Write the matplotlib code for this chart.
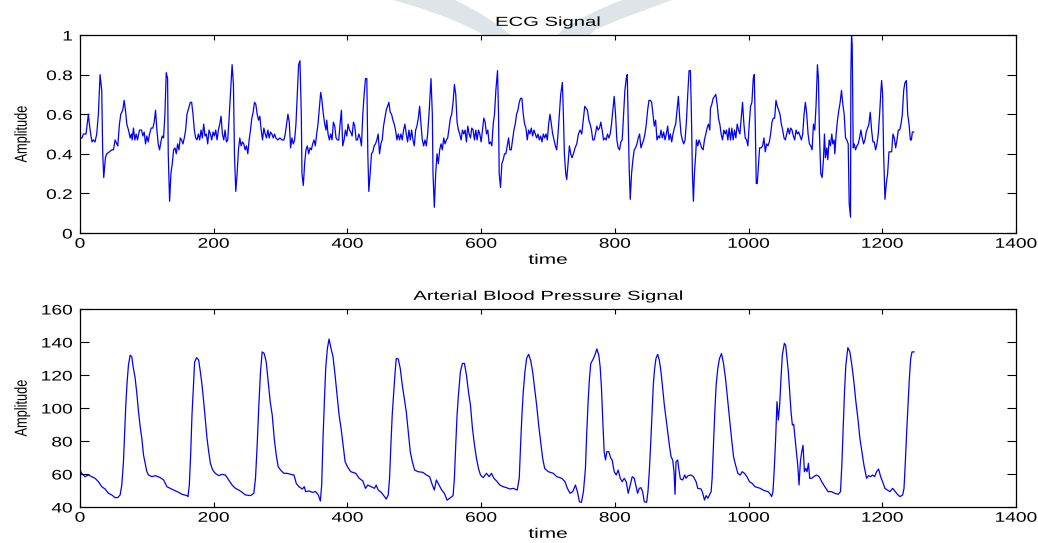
import matplotlib
matplotlib.use("Agg")
import matplotlib.pyplot as plt
from matplotlib.patches import Polygon
from matplotlib.patheffects import AbstractPathEffect
from matplotlib.transforms import Affine2D
from matplotlib.ticker import FuncFormatter

# ---- ECG signal (time, amplitude) ----
ecg_pts = [
    (0, 0.48), (3, 0.48), (5, 0.50), (9, 0.50), (12.5, 0.60), (14, 0.55), (16, 0.50), (18, 0.46),
    (20, 0.47), (22.5, 0.46), (25, 0.50), (27.5, 0.60), (30, 0.80), (32.5, 0.72), (34, 0.40),
    (35.5, 0.28), (38, 0.38), (40, 0.40), (44, 0.41), (47.5, 0.42), (50, 0.42), (52.5, 0.47),
    (55, 0.45), (56.5, 0.44), (59, 0.55), (61, 0.60), (64, 0.62), (66, 0.67), (68, 0.62),
    (70, 0.55), (72.5, 0.52), (75, 0.48), (77, 0.50), (78, 0.47), (80, 0.53), (82, 0.47),
    (84, 0.50), (86, 0.47), (89, 0.52), (92, 0.52), (94, 0.49), (96, 0.51), (98, 0.45),
    (100, 0.49), (102, 0.46), (104, 0.50), (106.5, 0.53), (109, 0.53), (111, 0.56), (113, 0.62),
    (115, 0.52), (117, 0.45), (119, 0.42), (121, 0.46), (123, 0.49), (125, 0.48), (127, 0.60),
    (129, 0.81), (131, 0.78), (132, 0.40), (134, 0.16), (136, 0.30), (138, 0.35), (140, 0.42),
    (142, 0.43), (144, 0.40), (146, 0.45), (148, 0.42), (150, 0.48), (152, 0.47), (154, 0.45),
    (156, 0.48), (158, 0.52), (160, 0.60), (162.5, 0.63), (165, 0.66), (167, 0.66), (169, 0.60),
    (171, 0.52), (173, 0.48), (175, 0.47), (177, 0.50), (179, 0.47), (181, 0.52), (183, 0.48),
    (185, 0.55), (187, 0.49), (189, 0.50), (191, 0.45), (193, 0.52), (195, 0.50), (197, 0.47),
    (199, 0.51), (201, 0.49), (203, 0.52), (205, 0.47), (207, 0.52), (209, 0.55), (211, 0.59),
    (213, 0.50), (215, 0.47), (217, 0.52), (219, 0.46), (221, 0.47), (223, 0.58), (225, 0.70),
    (227.5, 0.85), (229.5, 0.75), (231, 0.40), (233, 0.21), (235, 0.30), (237, 0.42), (239, 0.48),
    (241, 0.44), (243, 0.46), (245, 0.45), (247, 0.42), (249, 0.44), (251, 0.40), (253, 0.47),
    (255, 0.52), (257, 0.58), (259, 0.61), (261, 0.66), (263, 0.65), (265, 0.60), (267, 0.57),
    (269, 0.59), (271, 0.52), (273, 0.47), (275, 0.53), (277, 0.50), (279, 0.48), (281, 0.52),
    (283, 0.48), (285, 0.51), (287, 0.50), (289, 0.48), (291, 0.50), (293, 0.48), (296, 0.47),
    (299, 0.48), (302, 0.47), (305, 0.47), (307, 0.50), (309, 0.55), (311, 0.60), (313, 0.56),
    (315, 0.43), (317, 0.48), (319, 0.45), (321, 0.47), (323, 0.55), (325, 0.70), (327, 0.85),
    (329, 0.87), (331, 0.60), (332, 0.30), (334, 0.24), (336, 0.35), (338, 0.42), (340, 0.44),
    (342, 0.40), (344, 0.43), (346, 0.42), (348, 0.45), (350, 0.47), (352, 0.44), (354, 0.50),
    (356, 0.55), (358, 0.63), (360, 0.71), (361.5, 0.68), (364, 0.60), (366, 0.55), (368, 0.52),
    (369, 0.57), (371, 0.50), (373, 0.47), (375, 0.50), (377, 0.47), (379, 0.56), (381, 0.54),
    (383, 0.48), (385, 0.47), (387, 0.47), (389, 0.55), (391, 0.62), (393, 0.44), (395, 0.47),
    (397, 0.52), (399, 0.49), (401, 0.55), (403, 0.52), (405, 0.51), (407, 0.49), (409, 0.56),
    (411, 0.54), (413, 0.47), (415, 0.47), (417, 0.50), (419, 0.48), (421, 0.44), (423, 0.60),
    (425, 0.70), (427, 0.78), (429, 0.78), (430.5, 0.40), (432, 0.21), (434, 0.30), (436, 0.40),
    (438, 0.41), (440, 0.44), (442, 0.45), (444, 0.47), (446, 0.50), (448, 0.40), (450, 0.45),
    (452, 0.47), (454, 0.54), (456, 0.58), (458, 0.62), (460, 0.64), (462, 0.66), (464, 0.61),
    (466, 0.60), (468, 0.57), (470, 0.55), (472, 0.52), (474, 0.47), (476, 0.50), (478, 0.47),
    (480, 0.50), (482, 0.47), (484, 0.52), (486, 0.55), (488, 0.50), (490, 0.46), (492, 0.52),
    (494, 0.47), (496, 0.52), (498, 0.47), (500, 0.44), (502, 0.52), (504, 0.54), (506, 0.58),
    (508, 0.64), (510, 0.55), (512, 0.47), (514, 0.44), (516, 0.47), (518, 0.44), (520, 0.50),
    (522, 0.60), (525, 0.78), (527, 0.60), (528, 0.30), (530, 0.13), (532, 0.30), (534, 0.40),
    (536, 0.35), (538, 0.42), (540, 0.45), (542, 0.42), (544, 0.48), (546, 0.45), (548, 0.47),
    (550, 0.48), (552, 0.53), (554, 0.58), (556, 0.60), (558, 0.66), (560, 0.75), (562, 0.70),
    (564, 0.56), (566, 0.52), (568, 0.50), (570, 0.47), (572, 0.52), (574, 0.50), (576, 0.52),
    (578, 0.46), (580, 0.54), (582, 0.50), (584, 0.48), (586, 0.53), (588, 0.52), (590, 0.47),
    (592, 0.52), (594, 0.47), (596, 0.52), (598, 0.50), (600, 0.46), (602, 0.52), (604, 0.58),
    (606, 0.56), (608, 0.50), (610, 0.52), (612, 0.45), (614, 0.46), (616, 0.44), (618, 0.55),
    (620, 0.60), (622, 0.72), (624.5, 0.82), (626, 0.60), (627, 0.30), (629, 0.23), (631, 0.35),
    (633, 0.37), (635, 0.40), (637, 0.40), (639, 0.44), (641, 0.48), (643, 0.42), (645, 0.42),
    (647, 0.47), (649, 0.52), (651, 0.55), (653, 0.60), (655, 0.62), (657, 0.66), (659, 0.68),
    (661, 0.68), (663, 0.60), (665, 0.55), (667, 0.53), (669, 0.47), (671, 0.52), (673, 0.50),
    (675, 0.53), (677, 0.49), (679, 0.52), (681, 0.50), (683, 0.48), (685, 0.50), (687, 0.47),
    (689, 0.49), (691, 0.46), (693, 0.50), (695, 0.48), (697, 0.50), (699, 0.47), (701, 0.55),
    (703, 0.60), (705, 0.55), (707, 0.50), (709, 0.47), (711, 0.44), (713, 0.42), (715, 0.50),
    (717, 0.60), (719, 0.70), (721.5, 0.76), (723, 0.60), (724.5, 0.40), (726.5, 0.30), (728, 0.27),
    (730, 0.35), (732, 0.44), (734, 0.40), (736, 0.38), (738, 0.40), (740.5, 0.43), (743, 0.45),
    (745.5, 0.50), (748, 0.52), (750.5, 0.50), (753, 0.58), (755, 0.64), (757, 0.63), (759, 0.62),
    (761, 0.57), (763, 0.55), (765, 0.52), (767, 0.47), (769, 0.47), (771, 0.50), (773, 0.54),
    (775, 0.52), (777, 0.53), (779, 0.56), (781, 0.52), (783, 0.47), (785, 0.48), (787, 0.47),
    (789, 0.50), (791, 0.48), (793, 0.50), (795, 0.55), (797, 0.62), (799, 0.69), (801, 0.60),
    (803, 0.47), (805, 0.43), (807, 0.42), (809, 0.46), (811, 0.47), (813, 0.60), (815, 0.72),
    (817, 0.78), (818.5, 0.80), (820, 0.55), (821.5, 0.32), (823, 0.17), (825, 0.30), (827, 0.37),
    (829, 0.42), (831, 0.43), (833, 0.45), (835, 0.48), (837, 0.50), (839, 0.43), (841, 0.45),
    (843, 0.47), (845, 0.50), (847, 0.55), (849, 0.62), (851, 0.67), (853, 0.67), (855, 0.66),
    (857, 0.60), (859, 0.54), (861, 0.57), (863, 0.47), (865, 0.49), (867, 0.48), (869, 0.52),
    (871, 0.48), (873, 0.51), (875, 0.47), (877, 0.50), (879, 0.54), (881, 0.47), (883, 0.50),
    (885, 0.46), (887, 0.50), (889, 0.53), (891, 0.55), (893, 0.62), (895, 0.69), (897, 0.58),
    (899, 0.50), (901, 0.47), (903, 0.45), (905, 0.47), (907, 0.56), (909, 0.70), (911, 0.82),
    (913, 0.82), (914.5, 0.60), (916, 0.30), (917.5, 0.16), (919, 0.30), (921, 0.40), (922, 0.47),
    (924, 0.44), (926, 0.47), (928, 0.45), (930, 0.43), (932, 0.42), (934, 0.47), (936, 0.50),
    (938, 0.53), (940, 0.55), (942, 0.52), (943, 0.63), (945, 0.65), (947, 0.68), (949, 0.69),
    (951, 0.70), (953, 0.65), (955, 0.58), (957, 0.55), (959, 0.50), (961, 0.47), (963, 0.52),
    (965, 0.50), (967, 0.52), (969, 0.47), (971, 0.53), (973, 0.47), (975, 0.53), (977, 0.47),
    (979, 0.52), (981, 0.48), (983, 0.55), (985, 0.52), (987, 0.50), (989, 0.58), (991, 0.66),
    (993, 0.55), (995, 0.48), (997, 0.47), (999, 0.44), (1001, 0.55), (1003, 0.64), (1005, 0.66),
    (1007, 0.78), (1008.5, 0.80), (1010, 0.55), (1011.5, 0.25), (1013, 0.25), (1015, 0.35),
    (1016.5, 0.43), (1019, 0.43), (1021, 0.44), (1023, 0.48), (1025, 0.41), (1027, 0.45),
    (1029, 0.44), (1031, 0.46), (1033, 0.50), (1035, 0.56), (1037, 0.58), (1039, 0.58),
    (1041, 0.67), (1043, 0.64), (1045, 0.62), (1047, 0.60), (1049, 0.55), (1051, 0.52),
    (1053, 0.48), (1055, 0.47), (1057, 0.50), (1059, 0.53), (1061, 0.50), (1063, 0.53),
    (1065, 0.52), (1067, 0.49), (1069, 0.47), (1071, 0.52), (1073, 0.50), (1075, 0.51),
    (1077, 0.49), (1079, 0.47), (1081, 0.50), (1083, 0.60), (1085, 0.66), (1087, 0.60),
    (1089, 0.50), (1091, 0.45), (1093, 0.44), (1095, 0.42), (1097, 0.55), (1099, 0.52),
    (1101, 0.65), (1103, 0.85), (1104.5, 0.78), (1106, 0.50), (1108, 0.30), (1110, 0.28),
    (1112, 0.37), (1113.5, 0.50), (1115, 0.38), (1117, 0.43), (1118.5, 0.37), (1120.5, 0.47),
    (1122.5, 0.44), (1124.5, 0.50), (1126, 0.45), (1128, 0.47), (1129, 0.40), (1131, 0.50),
    (1133, 0.57), (1135, 0.62), (1137, 0.66), (1139, 0.72), (1141, 0.65), (1143, 0.60),
    (1145, 0.48), (1147, 0.47), (1149, 0.45), (1150.5, 0.15), (1152.5, 0.08), (1153, 0.80),
    (1154, 1.00), (1155, 0.95), (1156.5, 0.43), (1158, 0.45), (1160, 0.42), (1162, 0.44),
    (1164, 0.45), (1166, 0.48), (1168, 0.52), (1170, 0.48), (1172, 0.45), (1174, 0.47),
    (1176, 0.51), (1178, 0.53), (1180, 0.55), (1182, 0.61), (1184, 0.52), (1186, 0.46),
    (1188, 0.46), (1190, 0.42), (1192, 0.45), (1194, 0.50), (1196, 0.60), (1198, 0.72),
    (1199, 0.77), (1200.5, 0.70), (1202, 0.40), (1204, 0.17), (1206, 0.25), (1208, 0.30),
    (1210, 0.41), (1212, 0.41), (1214, 0.41), (1216, 0.50), (1218, 0.48), (1220, 0.43),
    (1222, 0.47), (1224, 0.52), (1226, 0.52), (1228, 0.55), (1230, 0.60), (1232, 0.72),
    (1234, 0.76), (1236, 0.77), (1238, 0.60), (1240, 0.55), (1242, 0.47), (1243.5, 0.47),
    (1245, 0.51), (1247, 0.51),
]

# ---- Arterial blood pressure (time, amplitude) ----
abp_pts = [
    (0, 62.4), (2.5, 60.4), (7.5, 58.4), (12.5, 59.4), (17.5, 58.4), (22.5, 57.4), (27.5, 55.4),
    (32.5, 52.3), (37.5, 50.9), (42.5, 48.3), (47.5, 47.3), (52.5, 45.7), (56.5, 45.7), (60, 47.3),
    (62.5, 53.3), (65, 67.5), (66.5, 81.6), (68.5, 101.8), (70.5, 116), (72.5, 126), (75, 132),
    (77.5, 131), (79.5, 125), (82.5, 118), (85, 108.9), (87.5, 97.8), (90, 88.7), (92.5, 81.6),
    (95, 71.5), (97.5, 66.5), (100, 61.4), (102.5, 59.4), (107.5, 58.4), (112.5, 59), (120, 57.8),
    (125, 56.4), (130, 52.3), (135, 51.3), (140, 50.3), (147.5, 48.9), (152.5, 47.7), (160, 46.9),
    (161.5, 46.3), (163.5, 53.3), (165.5, 71.5), (167.5, 95.8), (169.5, 112), (171.5, 128),
    (174.5, 130.5), (177.5, 129), (180, 122), (182.5, 114), (185, 103.8), (187.5, 92.7),
    (190, 81.6), (192.5, 73.5), (195, 66.5), (198.5, 62.4), (202.5, 60.4), (207.5, 59),
    (212.5, 59.8), (217.5, 59.4), (222.5, 56.4), (227.5, 53.3), (232.5, 51.3), (237.5, 50.3),
    (242.5, 48.9), (247.5, 47.3), (255, 46.9), (260, 48.3), (262.5, 57.4), (265, 77.6),
    (267.5, 101.8), (270, 122), (272.5, 134), (275.5, 133), (278.5, 128), (281.5, 116),
    (284.5, 103.8), (287.5, 95.8), (290.5, 81.6), (293.5, 71.5), (296.5, 64.4), (300, 62.4),
    (305, 60.4), (310, 60.4), (315, 59.8), (320, 59.4), (323.5, 54.3), (327.5, 52.3),
    (332.5, 50.9), (335.5, 52.3), (337.5, 49.3), (342.5, 49.7), (347.5, 48.9), (352.5, 49.3),
    (356.5, 47.3), (359.5, 43.6), (361.5, 53.3), (363.5, 81.6), (365.5, 103.8), (367.5, 124),
    (370, 136), (372.5, 141.8), (375.5, 136), (378.5, 131), (381.5, 120), (384.5, 107.9),
    (387.5, 95.8), (390.5, 87.7), (393.5, 77.6), (396.5, 67.5), (400, 64.4), (405, 61.4),
    (412.5, 60.4), (417.5, 57.4), (423, 55.8), (427, 51.3), (430.5, 53.3), (435.5, 52.3),
    (440.5, 51.3), (443, 53.3), (446, 50.3), (450.5, 48.9), (455.5, 46.3), (458, 44.8),
    (461, 47.3), (463, 57.4), (465, 77.6), (467, 95.8), (469, 107.9), (471, 120), (473, 130),
    (476, 129.7), (479, 124), (482, 114), (485, 105.9), (488, 97.8), (491, 85.7), (494, 73.5),
    (497, 67.5), (500.5, 62.4), (505.5, 61.4), (513, 61), (518, 59.4), (523, 58.4), (527, 53.3),
    (530, 50.3), (533, 56.4), (537, 53.3), (541, 50.3), (545, 48.3), (549, 44.2), (553, 45.3),
    (558, 46.9), (560, 57.4), (562, 77.6), (564, 95.8), (566, 107.9), (569, 122), (572, 127),
    (575, 127), (578, 120), (581, 109.9), (584, 101.8), (587, 87.7), (590, 77.6), (593, 69.5),
    (596, 63.4), (599, 59.4), (603, 57.8), (608, 60.4), (612, 58.4), (615.5, 60.4), (619, 57.4),
    (623, 55.8), (628, 53.3), (633, 52.3), (638, 51.7), (643, 50.9), (648, 51.3), (654, 50.3),
    (657, 57.4), (659, 77.6), (661, 95.8), (663, 109.9), (665.5, 122), (668, 130), (671, 132.5),
    (674, 129), (677, 122), (680, 111.9), (683, 101.8), (686, 89.7), (689, 79.6), (692, 69.5),
    (695, 63.4), (700.5, 61.4), (708, 60.4), (713, 58.4), (720.5, 57.4), (725.5, 55.3),
    (729, 51.3), (733, 48.3), (737, 49.3), (741, 53.3), (744, 49.3), (747, 43.2), (750, 42.8),
    (753, 49.3), (756, 63.4), (758, 85.7), (760, 103.8), (762, 118), (764, 127), (768, 130),
    (771, 133), (773, 135.8), (776, 132), (778, 125), (780, 111.9), (782, 91.7), (784, 73.5),
    (786, 68.5), (788, 73.5), (791, 73.5), (794, 69.5), (796, 68.5), (799, 61.4), (802, 59.4),
    (805, 62.4), (808, 57.4), (811, 55.3), (814, 57.4), (817, 55.3), (820, 48.3), (823, 53.3),
    (826, 58.4), (829, 57.4), (834, 48.3), (836.5, 51.3), (839, 51.7), (841.5, 49.3), (844, 43.2),
    (847.5, 42.8), (849.5, 49.3), (851.5, 61.4), (853.5, 77.6), (855.5, 95.8), (857.5, 114),
    (859.5, 124), (861.5, 130), (864, 132.5), (866.5, 129), (869, 122), (871.5, 111.9),
    (874, 101.8), (876.5, 93.7), (879, 85.7), (881.5, 77.6), (884, 70.5), (886.5, 68.5),
    (888.5, 61.4), (890, 47.7), (891.5, 67.5), (894, 68.5), (895.5, 63.4), (898, 57),
    (901.5, 56.4), (904.5, 59.4), (906.5, 57.4), (909.5, 59), (914, 59.4), (917.5, 58.4),
    (921.5, 55.3), (924, 51.3), (929, 50.9), (931.5, 48.3), (934, 44.2), (936.5, 46.9),
    (939, 45.3), (941.5, 47.3), (944, 49.3), (945.5, 57.4), (947.5, 77.6), (949.5, 97.8),
    (951.5, 114), (954, 124), (956.5, 130), (959.5, 133), (962.5, 127), (965.5, 118),
    (968.5, 105.9), (971.5, 93.7), (974.5, 81.6), (977.5, 70.5), (980.5, 65.5), (984, 60.4),
    (987.5, 59.4), (990.5, 61.4), (994, 60.4), (997.5, 58.4), (1001.5, 55.3), (1005.5, 54.3),
    (1009.5, 52.3), (1014, 51.7), (1017.5, 51.3), (1021.5, 50.3), (1025.5, 49.7), (1029, 49.3),
    (1031.5, 48.3), (1034.5, 46.3), (1036.5, 49.3), (1038.5, 63.4), (1040.5, 81.6),
    (1042.5, 103.8), (1044.5, 92.7), (1046.5, 101.8), (1048.5, 118), (1050.5, 132),
    (1053.5, 139.2), (1055.5, 138), (1057.5, 130), (1059.5, 122), (1061.5, 109.9), (1063.5, 97.8),
    (1065.5, 89.7), (1067.5, 90.1), (1069.5, 81.6), (1071.5, 73.5), (1073.5, 65.5), (1075.5, 53.3),
    (1077.5, 67.5), (1079.5, 73.5), (1081.5, 77.4), (1083.5, 61.4), (1085.5, 63.4), (1087.5, 61.4),
    (1089.5, 66.5), (1091.5, 57.4), (1094.5, 57.4), (1097.5, 58.4), (1101.5, 59.4), (1105.5, 58.4),
    (1109.5, 55.3), (1114, 52.3), (1119, 49.3), (1124, 49.3), (1129, 48.3), (1134, 47.7),
    (1137.5, 49.3), (1139.5, 65.5), (1141.5, 87.7), (1143.5, 109.9), (1145.5, 126),
    (1148.5, 136.6), (1151.5, 134), (1154.5, 126), (1157.5, 116), (1160.5, 103.8), (1163.5, 93.7),
    (1166.5, 81.6), (1169.5, 73.5), (1172.5, 65.5), (1176.5, 57.4), (1179.5, 59), (1182.5, 58.4),
    (1185.5, 59.4), (1188.5, 58.4), (1191.5, 61.4), (1194.5, 63), (1197.5, 58.4), (1200.5, 55.3),
    (1204, 51.3), (1207.5, 50.3), (1211.5, 49.3), (1215.5, 51.3), (1219.5, 49.3), (1223.5, 47.3),
    (1226.5, 46.3), (1230.5, 47.3), (1232.5, 51.3), (1234.5, 67.5), (1236.5, 85.7),
    (1238.5, 101.8), (1240.5, 118), (1242.5, 130), (1244.5, 134), (1247.5, 134),
]

x_ticks = [0, 200, 400, 600, 800, 1000, 1200, 1400]
ecg_yticks = [0, 0.2, 0.4, 0.6, 0.8, 1]
abp_yticks = [40, 60, 80, 100, 120, 140, 160]

W, H = 1038, 543
FONT = "Liberation Sans"


class Stretch(AbstractPathEffect):
    # the exported MATLAB figure is stretched sideways -> widen the glyphs
    def __init__(self, sx=1.0, sy=1.0, anchor="center"):
        super().__init__()
        self.sx, self.sy, self.anchor = sx, sy, anchor

    def draw_path(self, renderer, gc, tpath, affine, rgbFace=None):
        ext = tpath.get_extents()
        x0 = {"left": ext.x0, "center": (ext.x0 + ext.x1) / 2, "right": ext.x1}[self.anchor]
        y0 = (ext.y0 + ext.y1) / 2
        tr = Affine2D().translate(-x0, -y0).scale(self.sx, self.sy).translate(x0, y0)
        renderer.draw_path(gc, tpath, tr + affine, rgbFace)


def px(x, y):
    return (x / W, 1 - y / H)


fig = plt.figure(figsize=(W / 100, H / 100), dpi=100)

# faint watermark chevron behind the top title
left_band = [(393, 0), (420, 8), (448, 18), (475, 30), (500, 45),
             (522, 45), (515, 38), (498, 25), (478, 12), (455, 0)]
right_band = [(672, 0), (645, 10), (618, 20), (595, 30), (580, 45),
              (550, 45), (562, 30), (578, 20), (598, 10), (622, 0)]
for band in (left_band, right_band):
    fig.patches.append(Polygon([px(*p) for p in band], closed=True, transform=fig.transFigure,
                               facecolor="#dfe4e8", edgecolor="none", zorder=-5))

ax1 = fig.add_axes([80 / W, 1 - 233 / H, 936 / W, 198 / H])
ax2 = fig.add_axes([80 / W, 1 - 507 / H, 936 / W, 198 / H])

t, v = zip(*ecg_pts)
ax1.plot(t, v, color="#0000ff", lw=0.9)
t, v = zip(*abp_pts)
ax2.plot(t, v, color="#0000ff", lw=0.9)

for ax, yt, title in [(ax1, ecg_yticks, "ECG Signal"),
                      (ax2, abp_yticks, "Arterial Blood Pressure Signal")]:
    ax.set_xlim(0, 1400)
    ax.set_ylim(yt[0], yt[-1])
    ax.set_xticks(x_ticks)
    ax.set_yticks(yt)
    ax.xaxis.set_major_formatter(FuncFormatter(lambda val, pos: f"{val:g}"))
    ax.yaxis.set_major_formatter(FuncFormatter(lambda val, pos: f"{val:g}"))
    ax.tick_params(direction="in", top=True, right=True, width=0.8, colors="black",
                   labelsize=10)
    ax.tick_params(axis="x", length=3.5, pad=2.7)
    ax.tick_params(axis="y", length=6.5, pad=5.4)
    for s in ax.spines.values():
        s.set_linewidth(0.9)
        s.set_color("black")

    ttl = ax.set_title(title, fontsize=9.4, family=FONT, pad=6.6)
    ttl.set_path_effects([Stretch(sx=1.55)])
    xl = ax.set_xlabel("time", fontsize=10, family=FONT)
    ax.xaxis.set_label_coords(0.5, -0.1)
    xl.set_path_effects([Stretch(sx=1.5)])
    yl = ax.set_ylabel("Amplitude", fontsize=9.2, family=FONT)
    ax.yaxis.set_label_coords(-0.055, 0.5)
    yl.set_path_effects([Stretch(sy=1.35)])

    for lbl in ax.get_xticklabels():
        lbl.set_family(FONT)
        lbl.set_path_effects([Stretch(sx=1.38)])
    for lbl in ax.get_yticklabels():
        lbl.set_family(FONT)
        lbl.set_path_effects([Stretch(sx=1.38, anchor="right")])

fig.savefig("out.png", dpi=100)
